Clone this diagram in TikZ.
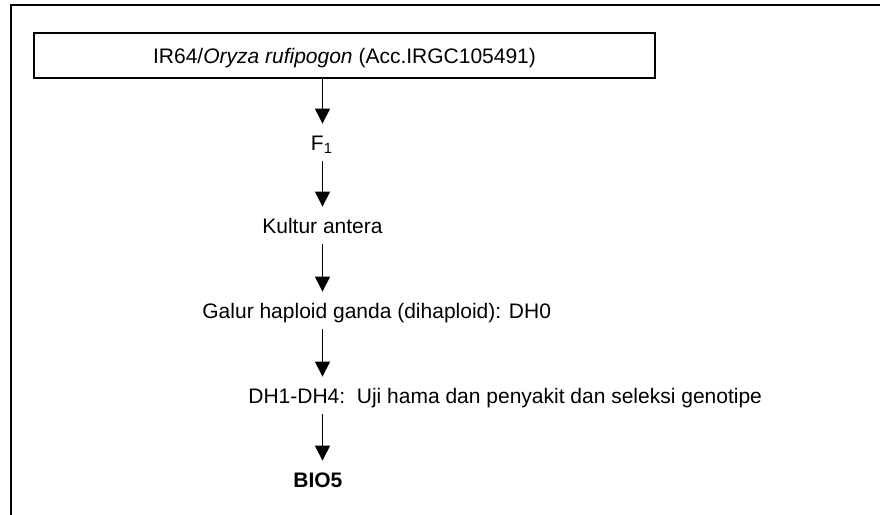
\documentclass[tikz,border=0pt]{standalone}
\usepackage{fontspec}
\setmainfont{Liberation Sans}
\usetikzlibrary{arrows.meta}

\begin{document}
\begin{tikzpicture}[x=0.5pt,y=-0.5pt,
  stage/.style={font=\fontsize{10.5pt}{12pt}\selectfont, text height=7.5pt, text depth=0pt, inner xsep=0pt, inner ysep=5.5pt},
  flow/.style={line width=0.6pt, -{Triangle[width=7.5pt,length=7.5pt]}}]
\useasboundingbox (0,0) rectangle (880,515);
\draw[line width=1.2pt] (11,515) -- (11,5) -- (880,5);

\node[stage, draw, line width=1pt, minimum width=310.5pt, minimum height=22.5pt] (cross) at (344.5,55.5) {IR64/\textit{Oryza rufipogon} (Acc.IRGC105491)};
\coordinate (axis) at (322.5,0);

\node[stage, anchor=base] (f1) at (322,150) {F\textsubscript{1}};
\node[stage, anchor=base] (kultur) at (322.5,233) {Kultur antera};
\node[stage, anchor=base west] (galur) at (202,318) {Galur haploid ganda (dihaploid): DH0};
\node[stage, anchor=base west] (uji) at (248,403) {DH1-DH4:\ \ Uji hama dan penyakit dan seleksi genotipe};
\node[stage, anchor=base west, font=\fontsize{10.5pt}{12pt}\selectfont\bfseries] (bio) at (293,487) {BIO5};

\draw[flow] (cross.south -| axis) -- (f1.north -| axis);
\draw[flow] (f1.south -| axis) -- (kultur.north -| axis);
\draw[flow] (kultur.south -| axis) -- (galur.north -| axis);
\draw[flow] (galur.south -| axis) -- (uji.north -| axis);
\draw[flow] (uji.south -| axis) -- (bio.north -| axis);
\end{tikzpicture}
\end{document}
